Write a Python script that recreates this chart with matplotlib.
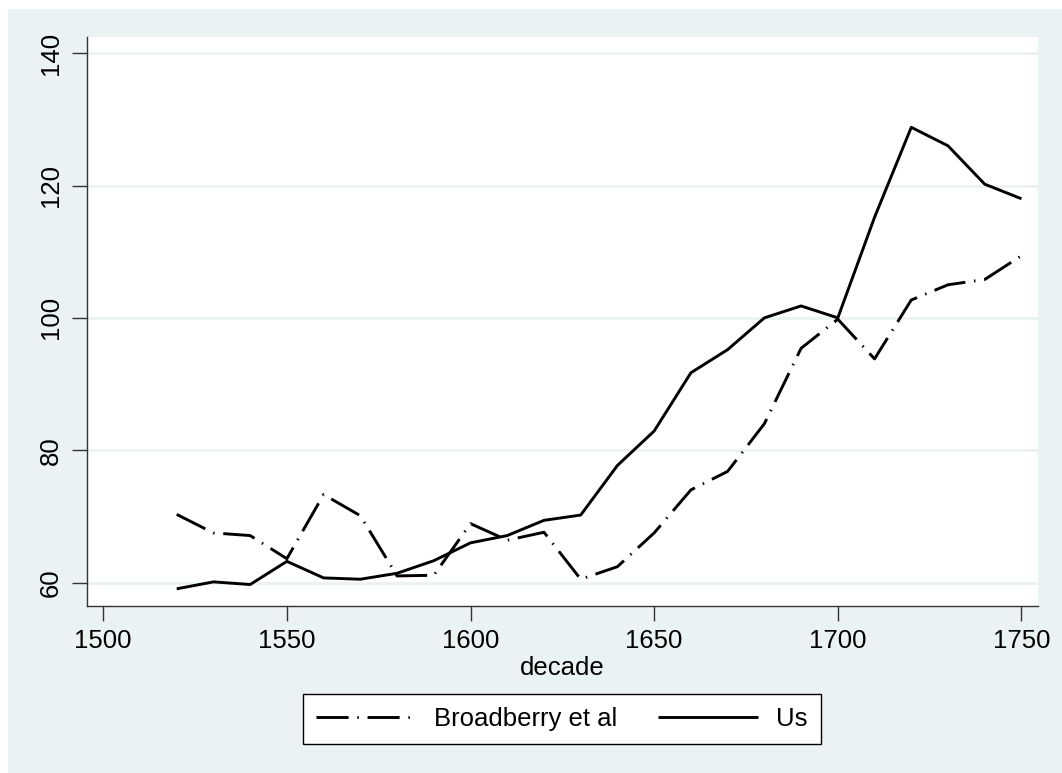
import matplotlib
matplotlib.use("Agg")
import matplotlib.pyplot as plt
from matplotlib.patches import Rectangle

decades = [1520, 1530, 1540, 1550, 1560, 1570, 1580, 1590, 1600, 1610, 1620, 1630,
           1640, 1650, 1660, 1670, 1680, 1690, 1700, 1710, 1720, 1730, 1740, 1750]
broadberry = [70.3, 67.5, 67.1, 63.6, 73.3, 70.1, 61.0, 61.1, 68.9, 66.4, 67.6, 60.5,
              62.4, 67.5, 74.0, 76.8, 84.0, 95.4, 99.8, 93.8, 102.7, 105.0, 105.8, 109.4]
us = [59.05, 60.1, 59.7, 63.2, 60.7, 60.5, 61.4, 63.3, 66.0, 67.1, 69.4, 70.2,
      77.7, 82.9, 91.7, 95.2, 100.0, 101.8, 100.0, 115.2, 128.8, 126.0, 120.2, 118.0]
xticks = [1500, 1550, 1600, 1650, 1700, 1750]
yticks = [60, 80, 100, 120, 140]

bg = "#eaf2f3"
plt.rcParams["font.family"] = ["Liberation Sans", "DejaVu Sans"]
plt.rcParams["font.size"] = 18.5

W, H = 1062, 773
fig = plt.figure(figsize=(W / 100, H / 100), dpi=100, facecolor="white")
# shaded background (thin white strip at top and left, like the original)
fig.patches.append(Rectangle((8 / W, 0), 1 - 8 / W, 1 - 9 / H, transform=fig.transFigure,
                             facecolor=bg, edgecolor="none", zorder=-10))

ax = fig.add_axes([86.7 / W, 1 - 605.7 / H, (1038 - 86.7) / W, (605.7 - 37.3) / H])
ax.set_zorder(1)
ax.set_facecolor("white")

ax.plot(decades, broadberry, color="black", lw=2.1, solid_capstyle="butt",
        dash_capstyle="butt", linestyle=(0, (11, 3, 0.5, 3)), label="Broadberry et al")
ax.plot(decades, us, color="black", lw=2.1, solid_capstyle="butt", label="Us")

ax.set_xlim(1495.5, 1754.5)
ax.set_ylim(56.5, 142.4)
ax.set_xticks(xticks)
ax.set_yticks(yticks)
ax.set_yticklabels([str(v) for v in yticks], rotation=90, va="center")
ax.grid(axis="y", color=bg, lw=2)
ax.set_axisbelow(True)
for s in ["top", "right"]:
    ax.spines[s].set_visible(False)
for s in ["left", "bottom"]:
    ax.spines[s].set_color("#333333")
    ax.spines[s].set_linewidth(1)
ax.tick_params(length=11, width=1, color="#333333", pad=6)
ax.set_xlabel("decade", labelpad=2)

leg = fig.legend(loc="center", bbox_to_anchor=(0.529, 0.070), ncol=2, frameon=True,
                 fancybox=False, edgecolor="black", framealpha=1, handlelength=3.9,
                 handletextpad=0.7, columnspacing=1.6, borderpad=0.5)
leg.set_zorder(2)

fig.savefig("out.png", dpi=100, facecolor=fig.get_facecolor())
